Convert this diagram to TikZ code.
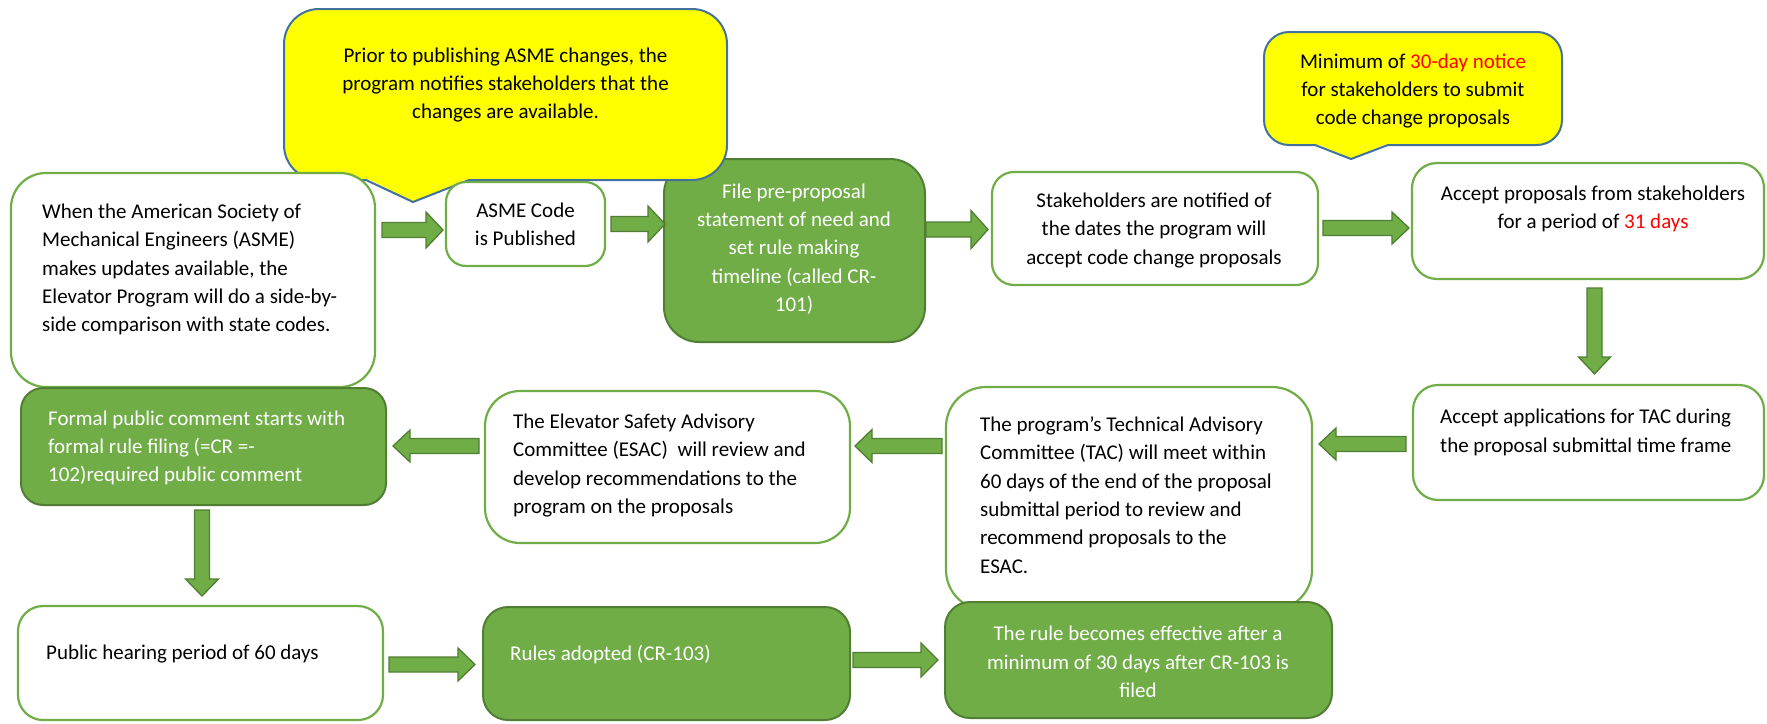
\documentclass[tikz,border=0pt]{standalone}
\usepackage{fontspec}
\setmainfont{Carlito}
\definecolor{ogreen}{HTML}{70AD47}
\definecolor{dgreen}{HTML}{507E32}
\definecolor{cblue}{HTML}{41719C}
\definecolor{cyel}{HTML}{FFFF00}
\newcommand\barrow[5]{%
  \draw[arr, shift={(#1,#2)}, rotate=#3] (0,-7.5) -- ({#4-17},-7.5) -- ({#4-17},-#5) -- (#4,0) -- ({#4-17},#5) -- ({#4-17},7.5) -- (0,7.5) -- cycle;}
\begin{document}
\begin{tikzpicture}[x=1pt,y=-1pt,
  wbox/.style={draw=ogreen, line width=2.2pt, fill=white, inner sep=0pt},
  gbox/.style={draw=dgreen, line width=2pt, fill=ogreen, inner sep=0pt},
  txt/.style={font=\fontsize{21}{28.3}\selectfont, inner sep=0pt},
  wtxt/.style={txt, text=white},
  arr/.style={draw=dgreen, line width=1.3pt, fill=ogreen, line join=miter},
  cfill/.style={fill=cyel},
  cline/.style={draw=cblue, line width=2pt, line join=round}]
\useasboundingbox (0,0) rectangle (1767,723);

% box 3 (under the callout)
\node[gbox, rounded corners=35pt, minimum width=261pt, minimum height=183pt] (b3) at (794.5,250.5) {};

% callout 1
\path[cfill, rounded corners=35pt] (284,9) rectangle (727,180);
\fill[cyel] (366,178) -- (413,202) -- (469,178) -- cycle;
\draw[cline, rounded corners=35pt] (469,180) -- (727,180) -- (727,9) -- (284,9) -- (284,180) -- (366,180);
\draw[cline] (366,180) -- (413,202) -- (469,180);
\node[txt, align=center] (c1) at (505.5,85) {Prior to publishing ASME changes, the\\program notifies stakeholders that the\\changes are available.};

% callout 2
\path[cfill, rounded corners=25pt] (1264,32) rectangle (1562,145);
\fill[cyel] (1315,143) -- (1351,159) -- (1388,143) -- cycle;
\draw[cline, rounded corners=25pt] (1388,145) -- (1562,145) -- (1562,32) -- (1264,32) -- (1264,145) -- (1315,145);
\draw[cline] (1315,145) -- (1351,159) -- (1388,145);
\node[txt, align=center] (c2) at (1413,91) {Minimum of \textcolor{red}{30-day notice}\\for stakeholders to submit\\code change proposals};

% boxes
\node[wbox, rounded corners=35pt, minimum width=364pt, minimum height=214pt] (b1) at (193,280) {};
\node[wbox, rounded corners=20pt, minimum width=159pt, minimum height=84pt] (b2) at (525.5,224) {};
\node[wbox, rounded corners=22pt, minimum width=326pt, minimum height=113pt] (b4) at (1155,228.5) {};
\node[wbox, rounded corners=25pt, minimum width=352pt, minimum height=116pt] (b5) at (1588,221) {};
\node[wbox, rounded corners=25pt, minimum width=351pt, minimum height=115pt] (b6) at (1588.5,442.5) {};
\node[wbox, rounded corners=40pt, minimum width=366pt, minimum height=223pt] (b7) at (1129,498.5) {};
\node[gbox, rounded corners=25pt, minimum width=387pt, minimum height=116pt] (b8) at (1138.5,660) {};
\node[gbox, rounded corners=22pt, minimum width=365pt, minimum height=117pt] (b9) at (203.5,446.5) {};
\node[wbox, rounded corners=35pt, minimum width=365pt, minimum height=152pt] (b10) at (667.5,467) {};
\node[wbox, rounded corners=25pt, minimum width=365pt, minimum height=114pt] (b11) at (200.5,663) {};
\node[gbox, rounded corners=25pt, minimum width=367pt, minimum height=113pt] (b12) at (666.5,663.5) {};

% texts
\node[txt, align=left, anchor=west] (t1) at (42,269.5) {When the American Society of\\Mechanical Engineers (ASME)\\makes updates available, the\\Elevator Program will do a side-by-\\side comparison with state codes.};
\node[txt, align=center] (t2) at (525.5,224.5) {ASME Code\\is Published};
\node[wtxt, align=center] (t3) at (794,249) {File pre-proposal\\statement of need and\\set rule making\\timeline (called CR-\\101)};
\node[txt, align=center] (t4) at (1154,230.5) {Stakeholders are notified of\\the dates the program will\\accept code change proposals};
\node[txt, align=center] (t5) at (1593,209) {Accept proposals from stakeholders\\for a period of \textcolor{red}{31 days}};
\node[txt, align=left, anchor=west] (t6) at (1440,432.5) {Accept applications for TAC during\\the proposal submittal time frame};
\node[txt, align=left, anchor=west] (t7) at (980,495) {The program’s Technical Advisory\\Committee (TAC) will meet within\\60 days of the end of the proposal\\submittal period to review and\\recommend proposals to the\\ESAC.};
\node[wtxt, align=center] (t8) at (1138,662) {The rule becomes effective after a\\minimum of 30 days after CR-103 is\\filed};
\node[wtxt, align=left, anchor=west] (t9) at (48,448) {Formal public comment starts with\\formal rule filing (=CR =-\\102)required public comment};
\node[txt, align=left, anchor=west] (t10) at (513,465.5) {The Elevator Safety Advisory\\Committee (ESAC)\ \ will review and\\develop recommendations to the\\program on the proposals};
\node[txt, align=left, anchor=west] (t11) at (46,654) {Public hearing period of 60 days};
\node[wtxt, align=left, anchor=west] (t12) at (510,655) {Rules adopted (CR-103)};

% block arrows
\barrow{382}{230}{0}{61}{18}
\barrow{611}{224}{0}{54}{18}
\barrow{926}{229.5}{0}{62}{19}
\barrow{1323}{228}{0}{86}{16}
\barrow{1594.5}{288}{-90}{86}{16}
\barrow{1406}{444}{180}{87}{16}
\barrow{942}{446}{180}{87}{16.5}
\barrow{479}{446}{180}{86}{16}
\barrow{202}{510}{-90}{86}{16.5}
\barrow{389}{664.5}{0}{86}{16.5}
\barrow{853}{660}{0}{85}{17}
\end{tikzpicture}
\end{document}
